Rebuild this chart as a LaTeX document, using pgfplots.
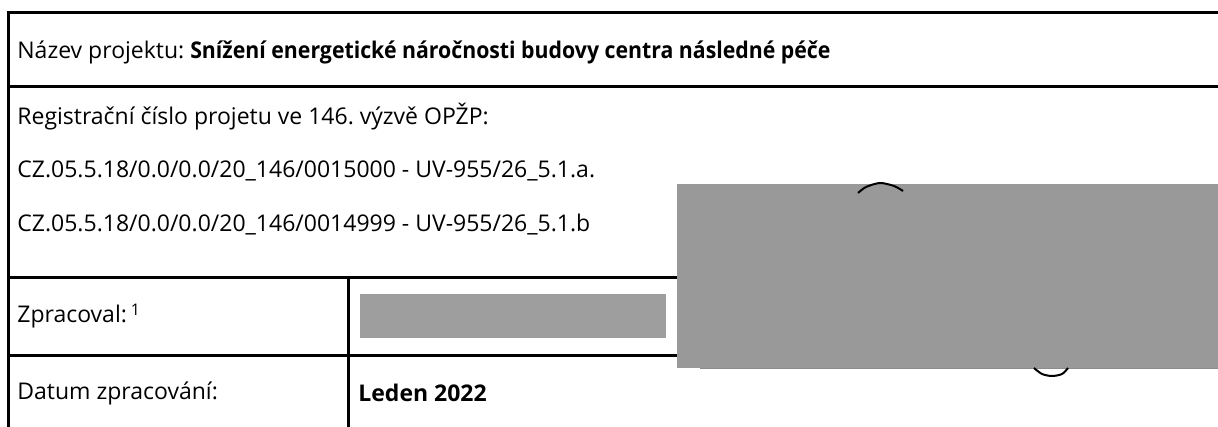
\documentclass[border=0pt]{standalone}
\usepackage{pgfplots}
\pgfplotsset{compat=1.18}
\usepackage{fontspec}
\setmainfont{Open Sans}
\begin{document}
\frenchspacing
\begin{tikzpicture}
\begin{axis}[scale only axis, width=609pt, height=213.5pt,
  xmin=0, xmax=1218, ymin=0, ymax=427, y dir=reverse,
  hide axis, clip=false]
% noise-like redacted boxes
\addplot[fill=black!38, draw=none] coordinates {(360,294) (666,294) (666,338) (360,338)} -- cycle;
\addplot[fill=black!40, draw=none] coordinates {(677,184) (1218,184) (1218,368) (677,368)} -- cycle;
\addplot[black!45, line width=0.5pt] coordinates {(700,368) (1218,368)};
% table rules
\addplot[black, line width=1.5pt] coordinates {(8,427) (8,13) (1218,13)};
\addplot[black, line width=1.5pt] coordinates {(8,87) (1218,87)};
\addplot[black, line width=1.5pt] coordinates {(8,277) (677,277)};
\addplot[black, line width=1.5pt] coordinates {(8,355) (677,355)};
\addplot[black, line width=1.5pt] coordinates {(348,277) (348,427)};
% arcs
\addplot[black, line width=1pt, smooth] coordinates {(858,193) (866,187) (880,183) (894,186) (903,191)};
\addplot[black, line width=1pt, smooth] coordinates {(1034,368) (1042,374) (1052,376) (1062,374) (1068,368)};
% texts
\begin{scope}[every node/.style={anchor=west, inner sep=0pt, font=\fontsize{11.5}{13}\selectfont}]
\node at (axis cs:17,52) {Název projektu: \scalebox{0.925}[1]{\textbf{Snížení energetické náročnosti budovy centra následné péče}}};
\node at (axis cs:17,117) {Registrační číslo projetu ve 146. výzvě OPŽP:};
\node at (axis cs:17,171) {CZ.05.5.18/0.0/0.0/20\_146/0015000 - UV-955/26\_5.1.a.};
\node at (axis cs:17,225) {CZ.05.5.18/0.0/0.0/20\_146/0014999 - UV-955/26\_5.1.b};
\node at (axis cs:17,316) {Zpracoval:\,\raisebox{0.6ex}{\fontsize{8}{9}\selectfont 1}};
\node at (axis cs:17,393) {Datum zpracování:};
\node at (axis cs:358,393) {\textbf{Leden 2022}};
\end{scope}
\end{axis}
\pgfresetboundingbox
\useasboundingbox (current axis.south west) rectangle (current axis.north east);
\end{tikzpicture}
\end{document}
